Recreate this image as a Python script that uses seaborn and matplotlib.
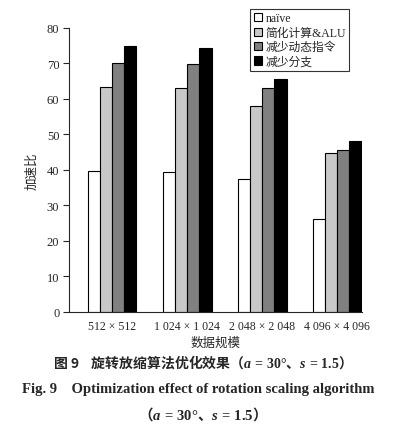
import pandas as pd
import matplotlib
matplotlib.use("Agg")
import matplotlib.pyplot as plt
import seaborn as sns

# Datos
escalas = ["512 × 512", "1 024 × 1 024", "2 048 × 2 048", "4 096 × 4 096"]
metodos = ["naïve", "简化计算&ALU", "减少动态指令", "减少分支"]
naive = [39.7, 39.4, 37.4, 26.2]
simplificado = [63.3, 63.1, 58.0, 44.8]
dinamico = [70.1, 69.9, 63.1, 45.6]
ramas = [74.9, 74.4, 65.6, 48.2]
colores = ["#ffffff", "#c8c8c8", "#808080", "#000000"]

df = pd.DataFrame({
    "escala": escalas * 4,
    "metodo": sum([[m] * 4 for m in metodos], []),
    "valor": naive + simplificado + dinamico + ramas,
})

sns.set_style("ticks")
plt.rcParams["font.family"] = ["Liberation Serif", "Noto Sans CJK SC", "DejaVu Sans"]
plt.rcParams["mathtext.fontset"] = "custom"
plt.rcParams["mathtext.it"] = "Liberation Serif:bold:italic"
plt.rcParams["mathtext.rm"] = "Liberation Serif:bold"

fig = plt.figure(figsize=(3.97, 4.31), dpi=100)
ax = fig.add_axes([0.174, 0.274, 0.738, 0.659])

sns.barplot(data=df, x="escala", y="valor", hue="metodo", hue_order=metodos,
            palette=colores, width=0.65, edgecolor="black", linewidth=0.8,
            saturation=1, ax=ax, legend=True)

ax.set_xlim(-0.573, 3.33)
ax.set_ylim(0, 80)
ax.set_yticks(range(0, 81, 10))
ax.tick_params(axis="y", length=4, width=0.8, labelsize=9, direction="out", pad=3)
ax.tick_params(axis="x", length=0, labelsize=8.5, pad=6)
for s in ["top", "right"]:
    ax.spines[s].set_visible(False)
ax.spines["left"].set_linewidth(0.8)
ax.spines["bottom"].set_linewidth(0.8)
ax.set_xlabel("数据规模", fontsize=9, labelpad=3)
ax.set_ylabel("加速比", fontsize=9, labelpad=6)

handles, labels = ax.get_legend_handles_labels()
leg = ax.legend(handles, labels, loc="upper right", bbox_to_anchor=(0.88, 0.977),
                bbox_transform=fig.transFigure, fontsize=8.5, frameon=True,
                fancybox=False, edgecolor="black", handlelength=0.7,
                handleheight=0.7, handletextpad=0.3, labelspacing=0.2,
                borderpad=0.3, borderaxespad=0)
leg.get_frame().set_linewidth(0.8)

cjk = ["Noto Sans CJK SC", "DejaVu Sans"]
eq = "（$a\\,\\mathrm{=}\\,\\mathrm{30°}$、$s\\,\\mathrm{=}\\,\\mathrm{1.5}$）"
fig.text(0.5, 0.16, "图 9    旋转放缩算法优化效果" + eq,
         ha="center", va="center", fontsize=10, fontweight="bold", family=cjk)
fig.text(0.5, 0.097, "Fig. 9    Optimization effect of rotation scaling algorithm",
         ha="center", va="center", fontsize=10.5, fontweight="bold")
fig.text(0.5, 0.04, eq,
         ha="center", va="center", fontsize=10.5, fontweight="bold", family=cjk)

fig.savefig("out.png", dpi=100)
